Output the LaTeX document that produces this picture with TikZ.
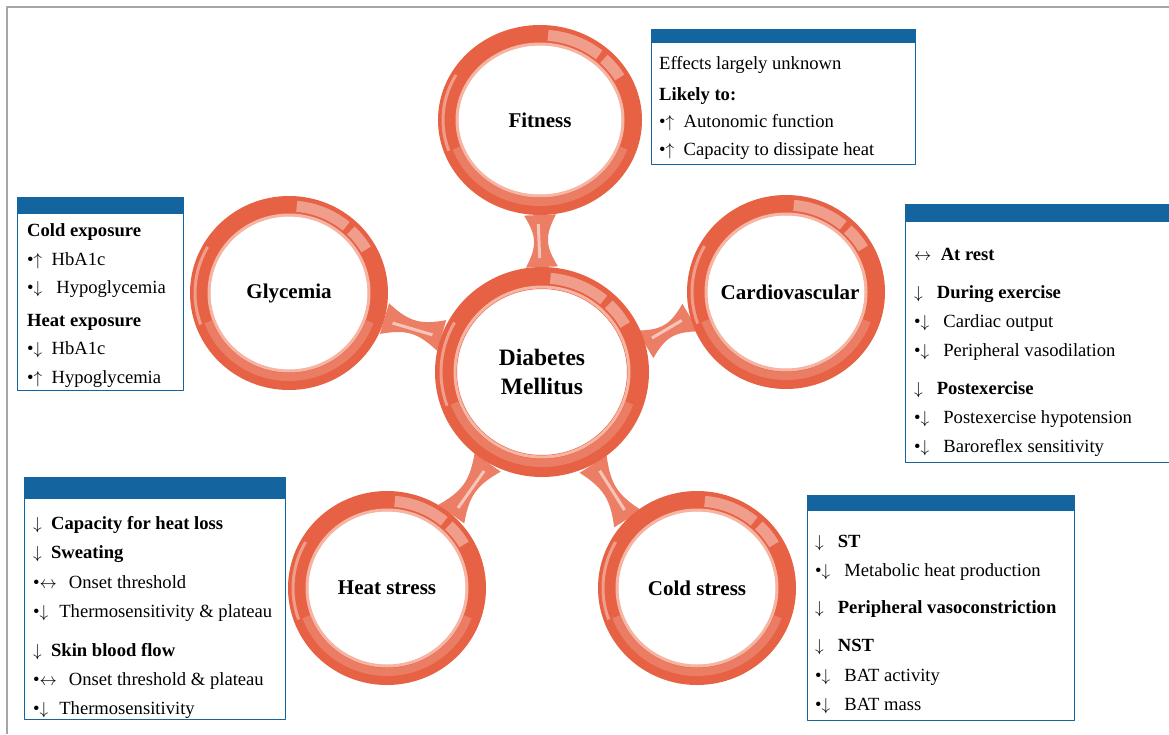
\documentclass[tikz,border=0pt]{standalone}
\usepackage{fontspec}
\setmainfont{Liberation Serif}
\usetikzlibrary{shapes.geometric,calc,backgrounds}
\definecolor{ringred}{RGB}{231,97,68}
\definecolor{ringlight}{RGB}{246,180,163}
\definecolor{stemcol}{RGB}{236,126,101}
\definecolor{boxblue}{RGB}{20,100,160}
\definecolor{framegray}{RGB}{165,165,165}

\newcommand\up{$\uparrow$}
\newcommand\dn{$\downarrow$}
\newcommand\lr{$\leftrightarrow$}
\newcommand\gap{\hspace{14pt}}

\newcommand\ringstem[2]{%
  \fill[stemcol] ($(#1)!16pt!90:(#2)$)
    .. controls ($($(#1)!0.4!(#2)$)!4pt!90:(#2)$) and ($($(#1)!0.6!(#2)$)!4pt!90:(#2)$) .. ($(#2)!16pt!-90:(#1)$)
    -- ($(#2)!16pt!90:(#1)$)
    .. controls ($($(#1)!0.6!(#2)$)!4pt!-90:(#2)$) and ($($(#1)!0.4!(#2)$)!4pt!-90:(#2)$) .. ($(#1)!16pt!-90:(#2)$)
    -- cycle;
  \draw[white,opacity=0.55,line width=3pt,shorten <=9pt,shorten >=9pt] ($(#1)!2pt!90:(#2)$) -- ($(#2)!2pt!-90:(#1)$);
}

\begin{document}
\begin{tikzpicture}[line cap=round,line join=round,x=1pt,y=-1pt,
    ring/.style={ellipse,draw=ringred,fill=white,line width=20pt,minimum width=178pt,minimum height=174pt,inner sep=0pt},
    ringtext/.style={inner sep=0pt,align=center,font=\fontsize{21}{24}\selectfont\bfseries},
    infobox/.style={draw=boxblue,fill=white,line width=1.2pt,anchor=north west,inner sep=0pt,line cap=butt},
    infotext/.style={anchor=base west,inner sep=0pt,font=\fontsize{18.6}{22}\selectfont},
    gloss/.style={white,opacity=0.38,line width=11pt,line cap=butt}]
    \useasboundingbox (0,0) rectangle (1169,734);
    \draw[framegray,line width=1.5pt,line cap=butt] (7,734) -- (7,7) -- (1169,7);

    \node[ring,minimum width=184pt,minimum height=170pt] (fit) at (540,120) {};
    \node[ring] (gly) at (289,293) {};
    \node[ring] (card) at (786,292) {};
    \node[ring] (heat) at (387,588) {};
    \node[ring] (cold) at (697,588) {};
    \node[ring,minimum width=192pt,minimum height=188pt,line width=22pt] (dm) at (542,372) {};

    \foreach \r/\rx/\ry in {fit/92/85,gly/89/87,card/89/87,heat/89/87,cold/89/87,dm/96/94} {
      \draw[ringlight,line width=3pt] (\r.center) ellipse [x radius=\rx-9,y radius=\ry-9];
      \draw[gloss] (\r.center) ++(-85:{\rx} and {\ry}) arc [start angle=-85,end angle=-50,x radius=\rx,y radius=\ry];
      \draw[gloss] (\r.center) ++(-46:{\rx} and {\ry}) arc [start angle=-46,end angle=-30,x radius=\rx,y radius=\ry];
      \draw[gloss,line width=3pt] (\r.center) ++(-150:{\rx+5} and {\ry+5}) arc [start angle=-150,end angle=-200,x radius=\rx+5,y radius=\ry+5];
      \draw[gloss,opacity=0.18,line width=8pt] (\r.center) ++(20:{\rx-3} and {\ry-3}) arc [start angle=20,end angle=160,x radius=\rx-3,y radius=\ry-3];
    }

    \node[ringtext] (fit-text) at (fit) {Fitness};
    \node[ringtext] (gly-text) at (gly) {Glycemia};
    \node[ringtext] (card-text) at ([xshift=4pt]card.center) {Cardiovascular};
    \node[ringtext] (heat-text) at (heat) {Heat stress};
    \node[ringtext] (cold-text) at (cold) {Cold stress};
    \node[ringtext,font=\fontsize{23.5}{29}\selectfont\bfseries] (dm-text) at (dm) {Diabetes\\Mellitus};

    \begin{scope}[on background layer]
      \ringstem{dm.90}{fit.-90}
      \ringstem{dm.160}{gly.-15}
      \ringstem{dm.15}{card.195}
      \ringstem{dm.-121}{heat.49}
      \ringstem{dm.-61}{cold.135}
    \end{scope}

    \node[infobox,minimum width=264pt,minimum height=135pt] (fitbox) at (651,29) {};
    \node[infobox,minimum width=166pt,minimum height=193pt] (glybox) at (17,197) {};
    \node[infobox,minimum width=268pt,minimum height=258pt] (cardbox) at (905,204) {};
    \node[infobox,minimum width=261pt,minimum height=242pt] (heatbox) at (24,477) {};
    \node[infobox,minimum width=267pt,minimum height=225pt] (coldbox) at (807,495) {};
    \fill[boxblue] (fitbox.north west) rectangle ($(fitbox.north east)+(0,14)$);
    \fill[boxblue] (glybox.north west) rectangle ($(glybox.north east)+(0,17)$);
    \fill[boxblue] (cardbox.north west) rectangle ($(cardbox.north east)+(0,18)$);
    \fill[boxblue] (heatbox.north west) rectangle ($(heatbox.north east)+(0,22)$);
    \fill[boxblue] (coldbox.north west) rectangle ($(coldbox.north east)+(0,16)$);

    \foreach \yy/\txt [count=\i] in {69/{Effects largely unknown},100/{\textbf{Likely to:}},
        127/{•\up\enskip Autonomic function},155/{•\up\enskip Capacity to dissipate heat}}
      \node[infotext] (fitline\i) at (659,\yy) {\txt};
    \foreach \yy/\txt [count=\i] in {236/{\textbf{Cold exposure}},265/{•\up\enskip HbA1c},293/{•\dn\gap Hypoglycemia},
        326/{\textbf{Heat exposure}},354/{•\dn\enskip HbA1c},383/{•\up\enskip Hypoglycemia}}
      \node[infotext] (glyline\i) at (27,\yy) {\txt};
    \foreach \yy/\txt [count=\i] in {260/{\lr\enskip\textbf{At rest}},298/{\dn\gap\textbf{During exercise}},
        327/{•\dn\gap Cardiac output},356/{•\dn\gap Peripheral vasodilation},394/{\dn\gap\textbf{Postexercise}},
        423/{•\dn\gap Postexercise hypotension},452/{•\dn\gap Baroreflex sensitivity}}
      \node[infotext] (cardline\i) at (914,\yy) {\txt};
    \foreach \yy/\txt [count=\i] in {529/{\dn\enskip\textbf{Capacity for heat loss}},558/{\dn\enskip\textbf{Sweating}},
        588/{•\lr\hspace{12pt}Onset threshold},617/{•\dn\hspace{11pt}Thermosensitivity \& plateau},656/{\dn\enskip\textbf{Skin blood flow}},
        685/{•\lr\hspace{12pt}Onset threshold \& plateau},714/{•\dn\hspace{11pt}Thermosensitivity}}
      \node[infotext] (heatline\i) at (33,\yy) {\txt};
    \foreach \yy/\txt [count=\i] in {547/{\dn\gap\textbf{ST}},576/{•\dn\gap Metabolic heat production},
        613/{\dn\gap\textbf{Peripheral vasoconstriction}},651/{\dn\gap\textbf{NST}},
        681/{•\dn\gap BAT activity},710/{•\dn\gap BAT mass}}
      \node[infotext] (coldline\i) at (815,\yy) {\txt};
\end{tikzpicture}
\end{document}
